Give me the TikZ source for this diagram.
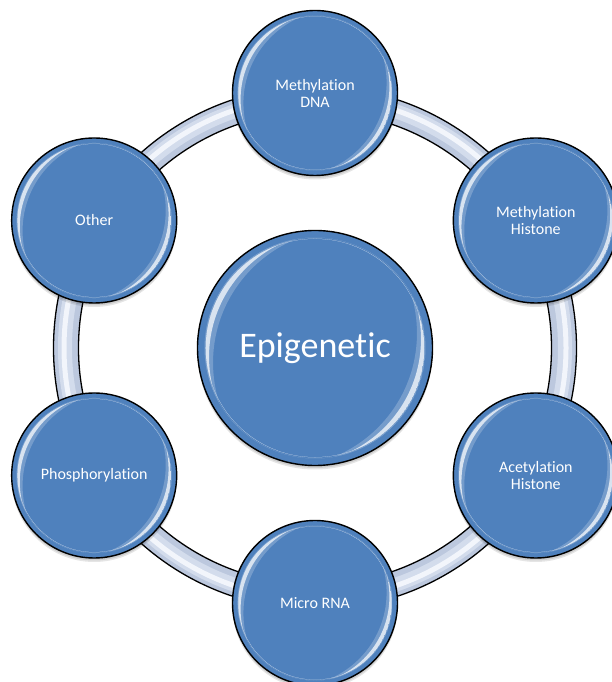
\documentclass[tikz,border=0pt]{standalone}
\usepackage{fontspec}
\setmainfont{Carlito}[Ligatures=NoCommon]

\definecolor{bblue}{HTML}{4F81BD}
\definecolor{bbluedk}{HTML}{4673A8}
\definecolor{bbluedkk}{HTML}{3C6391}
\definecolor{ringA}{HTML}{BCC8DE}
\definecolor{ringB}{HTML}{D3DCEC}
\definecolor{ringC}{HTML}{F2F5FB}

\pgfdeclarelayer{back}
\pgfsetlayers{back,main}

% darker rim just inside each bubble
\pgfdeclareradialshading{bubblerim}{\pgfpointorigin}{%
  color(0bp)=(bblue); color(40bp)=(bblue); color(47bp)=(bbluedk); color(50bp)=(bbluedkk)}

% one glossy crescent centred on direction #1 (frame: bubble radius 100)
\newcommand\glosscrescent[1]{%
  \begin{scope}
    \clip (0,0) circle (94);
    \fill[white, opacity=.22, even odd rule]
      (0,0) circle (94) ({#1+180}:29.6) circle (113.6);
  \end{scope}
  \begin{scope}
    \clip (0,0) circle (93);
    \fill[white, opacity=.72, even odd rule]
      (0,0) circle (93) ({#1+180}:18) circle (106.5);
  \end{scope}}

% body of a bubble behind node #1 of radius #2:
% soft shadow, fill, rim shading, two glossy crescents, outline
\newcommand\bubblebody[2]{%
  \fill[black, opacity=.10] ([yshift=-4pt]#1.center) circle (#2);
  \fill[black, opacity=.10] ([yshift=-2.5pt]#1.center) circle (#2);
  \fill[black, opacity=.10] ([yshift=-1pt]#1.center) circle (#2);
  \begin{scope}[shift={(#1.center)}, scale=#2/100]
    \fill[bblue] (0,0) circle (100);
    \shade[shading=bubblerim] (0,0) circle (100);
    \glosscrescent{155}
    \glosscrescent{-25}
  \end{scope}
  \draw[black, line width=1.4pt] (#1.center) circle (#2);}

\begin{document}
\begin{tikzpicture}[x=1pt, y=1pt,
  bubble/.style={circle, text=white, inner sep=0pt, align=center,
    minimum size=#1*2pt, font=\fontsize{16}{17}\selectfont},
  ringband/.style={line width=#1}]

  \useasboundingbox (0,0) rectangle (611,682);
  \clip (0,0) rectangle (611,682);

  \coordinate (hub) at (315,334);

  % the ring that links the outer bubbles
  \begin{pgfonlayer}{back}
    \draw[ringA, ringband=25pt] (hub) circle (249);
    \draw[ringB, ringband=14pt] (hub) circle (250);
    \draw[ringC, ringband=5pt] (hub) circle (251);
    \draw[black, line width=1.3pt] (hub) circle (261.5) (hub) circle (236.5);
  \end{pgfonlayer}

  % labels
  \node[bubble=117.5, font=\fontsize{36}{40}\selectfont] (epi) at (hub) {Epigenetic};
  \node[bubble=82.5] (mdna)  at ([shift={(90:255)}]hub)  {Methylation\\DNA};
  \node[bubble=82.5] (mhis)  at ([shift={(30:255)}]hub)  {Methylation\\Histone};
  \node[bubble=82.5] (ahis)  at ([shift={(-30:255)}]hub) {Acetylation\\Histone};
  \node[bubble=82.5] (mrna)  at ([shift={(-90:255)}]hub) {Micro RNA};
  \node[bubble=82.5] (phos)  at ([shift={(210:255)}]hub) {Phosphorylation};
  \node[bubble=82.5] (other) at ([shift={(150:255)}]hub) {Other};

  % bubble bodies behind the labels
  \begin{pgfonlayer}{back}
    \bubblebody{epi}{117.5}
    \bubblebody{mdna}{82.5}
    \bubblebody{mhis}{82.5}
    \bubblebody{ahis}{82.5}
    \bubblebody{mrna}{82.5}
    \bubblebody{phos}{82.5}
    \bubblebody{other}{82.5}
  \end{pgfonlayer}
\end{tikzpicture}
\end{document}
